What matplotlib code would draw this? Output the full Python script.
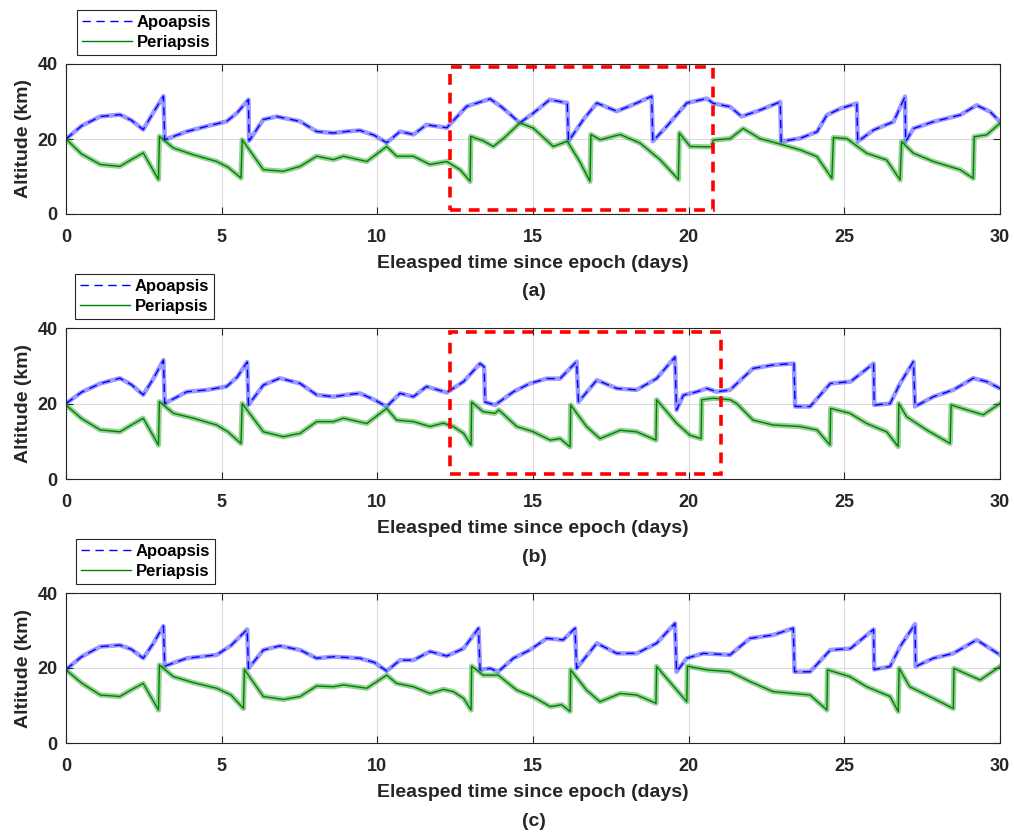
"""
Apoapsis / periapsis altitude over 30 days, three scenarios (a), (b), (c).
"""

import matplotlib

matplotlib.use("Agg")
import matplotlib.pyplot as plt
from matplotlib.patches import Rectangle

plt.rcParams["font.family"] = ["Liberation Sans", "DejaVu Sans"]
plt.rcParams["font.weight"] = "bold"
plt.rcParams["axes.labelweight"] = "bold"

# ---- data (days, km) ----
a_apo_t = [0, 0.5, 1.1, 1.73, 2.1, 2.48, 2.8, 3.13, 3.17, 3.88, 4.52, 5.16, 5.5, 5.86, 5.88,
           6.34, 6.77, 7.52, 8.05, 8.59, 9.0, 9.44, 9.9, 10.3, 10.73, 11.16, 11.58, 12.23,
           12.87, 13.62, 14.0, 14.58, 15.01, 15.54, 16.1, 16.14, 16.62, 17.05, 17.69, 18.23,
           18.81, 18.85, 19.3, 19.94, 20.58, 20.79, 21.33, 21.7, 22.29, 22.94, 22.97, 23.58,
           24.12, 24.44, 24.87, 25.4, 25.43, 25.94, 26.58, 26.95, 26.97, 27.22, 27.86, 28.72,
           29.25, 29.68, 30]
a_apo_km = [20, 23.5, 26, 26.5, 25, 22.5, 27, 31.4, 19.8, 22, 23.4, 24.7, 27, 30.5, 19.5,
            25.2, 26, 24.7, 22, 21.6, 22, 22.3, 21, 19, 22, 21.2, 23.8, 23,
            28.7, 30.7, 28.5, 24.3, 26.9, 30.5, 29.6, 19.4, 25.2, 29.6, 27.4, 29.2,
            31.4, 19.4, 23.4, 29.6, 30.8, 29.5, 28.6, 26, 27.7, 29.9, 19.3, 20.2,
            21.9, 26.4, 28.1, 29.5, 19.3, 22.4, 24.6, 31.3, 19.3, 22.8, 24.6, 26.4,
            29, 27.3, 24.6]
a_peri_t = [0, 0.5, 1.1, 1.73, 2.1, 2.48, 2.97, 3.0, 3.45, 4.09, 4.84, 5.2, 5.62, 5.66, 6.34,
            6.98, 7.52, 8.05, 8.59, 8.91, 9.66, 10.3, 10.62, 11.16, 11.69, 12.23, 12.66, 12.98,
            13.0, 13.4, 13.73, 14.1, 14.58, 15.01, 15.65, 16.1, 16.5, 16.83, 16.86, 17.16,
            17.8, 18.44, 19.08, 19.67, 19.7, 20.05, 20.74, 20.79, 21.33, 21.75, 22.29, 23.04,
            23.58, 24.12, 24.6, 24.65, 25.08, 25.72, 26.36, 26.79, 26.84, 27.22, 27.86, 28.72,
            29.14, 29.17, 29.57, 30]
a_peri_km = [20, 16, 13.2, 12.7, 14.5, 16.3, 9.2, 20.7, 17.6, 15.8, 14, 12.5, 9.6, 19.8, 11.8,
             11.4, 12.7, 15.4, 14.5, 15.4, 14, 18, 15.4, 15.4, 13.2, 14, 11.8, 8.7,
             20.7, 19.5, 18, 20.5, 24.3, 22.9, 18, 19.4, 14, 8.7, 21.2, 19.8,
             21.2, 18.9, 14.5, 9.2, 21.6, 18, 17.9, 19.7, 20.1, 22.8, 20.1, 18.4,
             17.1, 15.3, 9.5, 20.4, 20.1, 16.2, 14.4, 9.1, 19.3, 16.2, 14, 11.8,
             9.5, 20.6, 21.1, 24.2]

b_apo_t = [0, 0.5, 1.1, 1.73, 2.1, 2.48, 2.8, 3.13, 3.17, 3.88, 4.52, 5.16, 5.5, 5.82, 5.86,
           6.34, 6.87, 7.52, 8.05, 8.59, 9.0, 9.44, 9.9, 10.3, 10.73, 11.16, 11.58, 12.23,
           12.77, 13.3, 13.43, 13.46, 13.78, 14.37, 14.9, 15.44, 15.87, 16.4, 16.46, 17.05,
           17.69, 18.33, 18.97, 19.56, 19.61, 19.83, 20.26, 20.58, 20.9, 21.33, 22.07, 22.71,
           23.38, 23.42, 23.9, 24.55, 25.2, 25.94, 25.96, 26.47, 26.79, 27.22, 27.27, 27.86,
           28.5, 29.14, 29.57, 30]
b_apo_km = [20, 23, 25.3, 26.7, 25, 22.3, 26.5, 31.5, 20, 23.1, 23.6, 24.5, 27, 31, 19.6,
            24.9, 26.7, 25.3, 22.3, 21.8, 22.3, 22.7, 21, 19.2, 22.7, 21.8, 24.5, 22.9,
            25.8, 30.6, 29.7, 20.4, 19.6, 23.1, 25.3, 26.6, 26.6, 31.1, 20.4, 26.2,
            24, 23.6, 26.6, 32.3, 18.3, 22.2, 23.1, 24, 23.1, 23.6, 29.3, 30.2,
            30.6, 19.2, 19.2, 25.3, 25.8, 30.6, 19.6, 20, 25.3, 31.1, 19.2, 21.8,
            23.6, 26.7, 25.8, 24]
b_peri_t = [0, 0.5, 1.1, 1.73, 2.1, 2.48, 2.97, 3.0, 3.45, 4.09, 4.84, 5.2, 5.62, 5.66, 6.34,
            6.98, 7.52, 8.05, 8.59, 8.91, 9.66, 10.3, 10.62, 11.16, 11.69, 12.12, 12.44, 12.77,
            13.01, 13.03, 13.4, 13.78, 13.9, 14.48, 15.01, 15.55, 15.87, 16.19, 16.21, 16.72,
            17.15, 17.8, 18.33, 18.95, 18.97, 19.61, 20.04, 20.4, 20.42, 20.79, 21.33, 21.54,
            22.07, 22.71, 23.58, 24.12, 24.54, 24.56, 25.18, 25.72, 26.36, 26.73, 26.75, 27.0,
            27.64, 28.4, 28.43, 29.14, 29.46, 30]
b_peri_km = [19.6, 16, 13, 12.5, 14.3, 16.1, 9, 20.5, 17.4, 16.1, 14.3, 12.5, 9.4, 20, 12.5,
             11.2, 12.1, 15.2, 15.2, 16.1, 14.7, 18.7, 15.6, 15.2, 13.9, 14.8, 13.9, 12.1,
             9, 20.4, 17.8, 17.4, 18.3, 13.9, 12.5, 10.3, 10.7, 8.5, 19.6, 13.9,
             10.7, 12.9, 12.5, 10.3, 21.0, 14.8, 11.6, 10.7, 21.0, 21.4, 21, 20,
             15.6, 14.3, 13.9, 13, 9, 18.7, 17.4, 14.7, 12.5, 8.6, 20, 16.5,
             13, 9.4, 19.6, 17.8, 17, 20]

c_apo_t = [0, 0.5, 1.1, 1.73, 2.1, 2.48, 2.8, 3.13, 3.17, 3.88, 4.84, 5.3, 5.82, 5.86, 6.34,
           6.87, 7.52, 8.05, 8.59, 9.44, 9.9, 10.3, 10.73, 11.16, 11.69, 12.23, 12.77, 13.25,
           13.3, 13.62, 13.88, 14.37, 14.9, 15.44, 15.97, 16.35, 16.4, 17.05, 17.69, 18.33,
           18.97, 19.56, 19.61, 19.94, 20.47, 21.33, 21.97, 22.71, 23.36, 23.4, 23.9, 24.55,
           25.2, 25.94, 25.96, 26.47, 26.79, 27.27, 27.29, 27.86, 28.5, 29.25, 30]
c_apo_km = [19.6, 23, 25.7, 26.1, 25, 22.6, 26.5, 31.2, 20.5, 22.6, 23.5, 26, 30.3, 19.9, 24.8,
            25.9, 24.8, 22.6, 23, 22.6, 21.5, 19.2, 22.1, 22.1, 24.4, 23.2, 25.2, 30.6,
            19.5, 19.9, 19, 22.6, 24.8, 27.9, 27.5, 30.6, 19.9, 26.6, 23.9, 23.9,
            26.6, 31.9, 19, 22.6, 23.9, 23.5, 27.9, 28.8, 30.6, 19, 19, 24.8,
            25.2, 30.3, 19.6, 20.4, 25.7, 31.7, 20.4, 22.6, 23.9, 27.5, 23.5]
c_peri_t = [0, 0.5, 1.1, 1.73, 2.1, 2.48, 2.97, 3.0, 3.45, 4.09, 4.84, 5.3, 5.7, 5.73, 6.34,
            6.98, 7.52, 8.05, 8.59, 8.91, 9.66, 10.3, 10.62, 11.16, 11.69, 12.12, 12.44, 12.77,
            13.01, 13.03, 13.4, 13.88, 14.48, 15.01, 15.55, 15.92, 16.19, 16.21, 16.72, 17.15,
            17.8, 18.33, 18.95, 18.97, 19.94, 19.96, 20.58, 21.33, 21.97, 22.71, 23.9, 24.44,
            24.46, 25.18, 25.72, 26.47, 26.73, 26.76, 27.1, 27.86, 28.5, 28.52, 29.36, 30]
c_peri_km = [19.5, 16, 12.8, 12.4, 14.2, 15.9, 8.8, 20.8, 17.7, 16.1, 14.6, 12.8, 9.2, 19.6, 12.4,
             11.6, 12.4, 15.2, 15, 15.5, 14.6, 18.1, 15.9, 15, 13.2, 14.3, 13.7, 11.9,
             8.8, 20.5, 18.1, 18.1, 14.1, 12.3, 9.7, 10.2, 8.4, 19.5, 14.1, 11,
             13.2, 12.8, 10.6, 20.4, 11, 20.5, 19.5, 19, 16.4, 13.7, 12.8, 8.8,
             19.5, 17.7, 15, 12.4, 8.4, 19.9, 15, 11.9, 9.2, 19.9, 16.8, 20.4]

# highlighted windows (t0, t1, km0, km1), panel c has none
a_box = (12.35, 20.78, 1.1, 39.3)
b_box = (12.35, 21.05, 1.2, 39.0)

panel_tags = ["(a)", "(b)", "(c)"]

TXT = "#262626"
BLUE = "#0000ff"
GREEN = "#008000"

W, H = 1014, 832
fig = plt.figure(figsize=(W / 100, H / 100), dpi=100)

# axes placement in pixels: (left, top, right, bottom)
ax_px = [(66, 64, 1000, 214), (66, 328, 1000, 479), (66, 593, 1000, 743)]
tag_y = [292, 557, 821]
leg_x = [77, 75, 76]

panels = [
    (a_apo_t, a_apo_km, a_peri_t, a_peri_km, a_box),
    (b_apo_t, b_apo_km, b_peri_t, b_peri_km, b_box),
    (c_apo_t, c_apo_km, c_peri_t, c_peri_km, None),
]

for i, (apo_t, apo_km, peri_t, peri_km, box) in enumerate(panels):
    l, t, r, b = ax_px[i]
    ax = fig.add_axes([l / W, 1 - b / H, (r - l) / W, (b - t) / H])

    # fuzzy band standing in for the per-orbit ripple
    ax.plot(apo_t, apo_km, color=BLUE, lw=3.2, alpha=0.4)
    ax.plot(peri_t, peri_km, color="#1a9a1a", lw=3.8, alpha=0.45)
    ax.plot(apo_t, apo_km, color=BLUE, lw=1.0, dashes=(6, 4), label="Apoapsis")
    ax.plot(peri_t, peri_km, color=GREEN, lw=1.0, label="Periapsis")

    if box is not None:
        x0, x1, y0, y1 = box
        ax.add_patch(Rectangle((x0, y0), x1 - x0, y1 - y0, fill=False, ec="red",
                               lw=2.6, ls=(0, (3, 2.2)), zorder=5, clip_on=False))

    ax.set_xlim(0, 30)
    ax.set_ylim(0, 40)
    ax.set_xticks(range(0, 31, 5))
    ax.set_yticks([0, 20, 40])
    ax.grid(True, color="#dcdcdc", lw=0.8)
    ax.set_axisbelow(True)
    ax.tick_params(direction="in", length=5, width=0.8, top=True, right=True,
                   labelsize=13, colors=TXT)
    ax.tick_params(axis="x", pad=11)
    ax.tick_params(axis="y", pad=6)
    for s in ax.spines.values():
        s.set_color(TXT)
        s.set_linewidth(0.8)
    ax.set_ylabel("Altitude (km)", fontsize=14, color=TXT, labelpad=4)
    ax.set_xlabel("Eleasped time since epoch (days)", fontsize=14, color=TXT, labelpad=6)

    leg = ax.legend(loc="lower left", bbox_to_anchor=((leg_x[i] - l) / (r - l), 1 + 9 / (b - t)),
                    borderaxespad=0, fontsize=12, handlelength=3.0, handletextpad=0.3,
                    labelspacing=0.3, borderpad=0.3, fancybox=False, framealpha=1,
                    edgecolor=TXT)
    leg.get_frame().set_linewidth(0.8)
    for txt in leg.get_texts():
        txt.set_color("black")

    fig.text(534 / W, 1 - tag_y[i] / H, panel_tags[i], ha="center", va="center",
             fontsize=14, color=TXT)

fig.savefig("out.png", dpi=100)
